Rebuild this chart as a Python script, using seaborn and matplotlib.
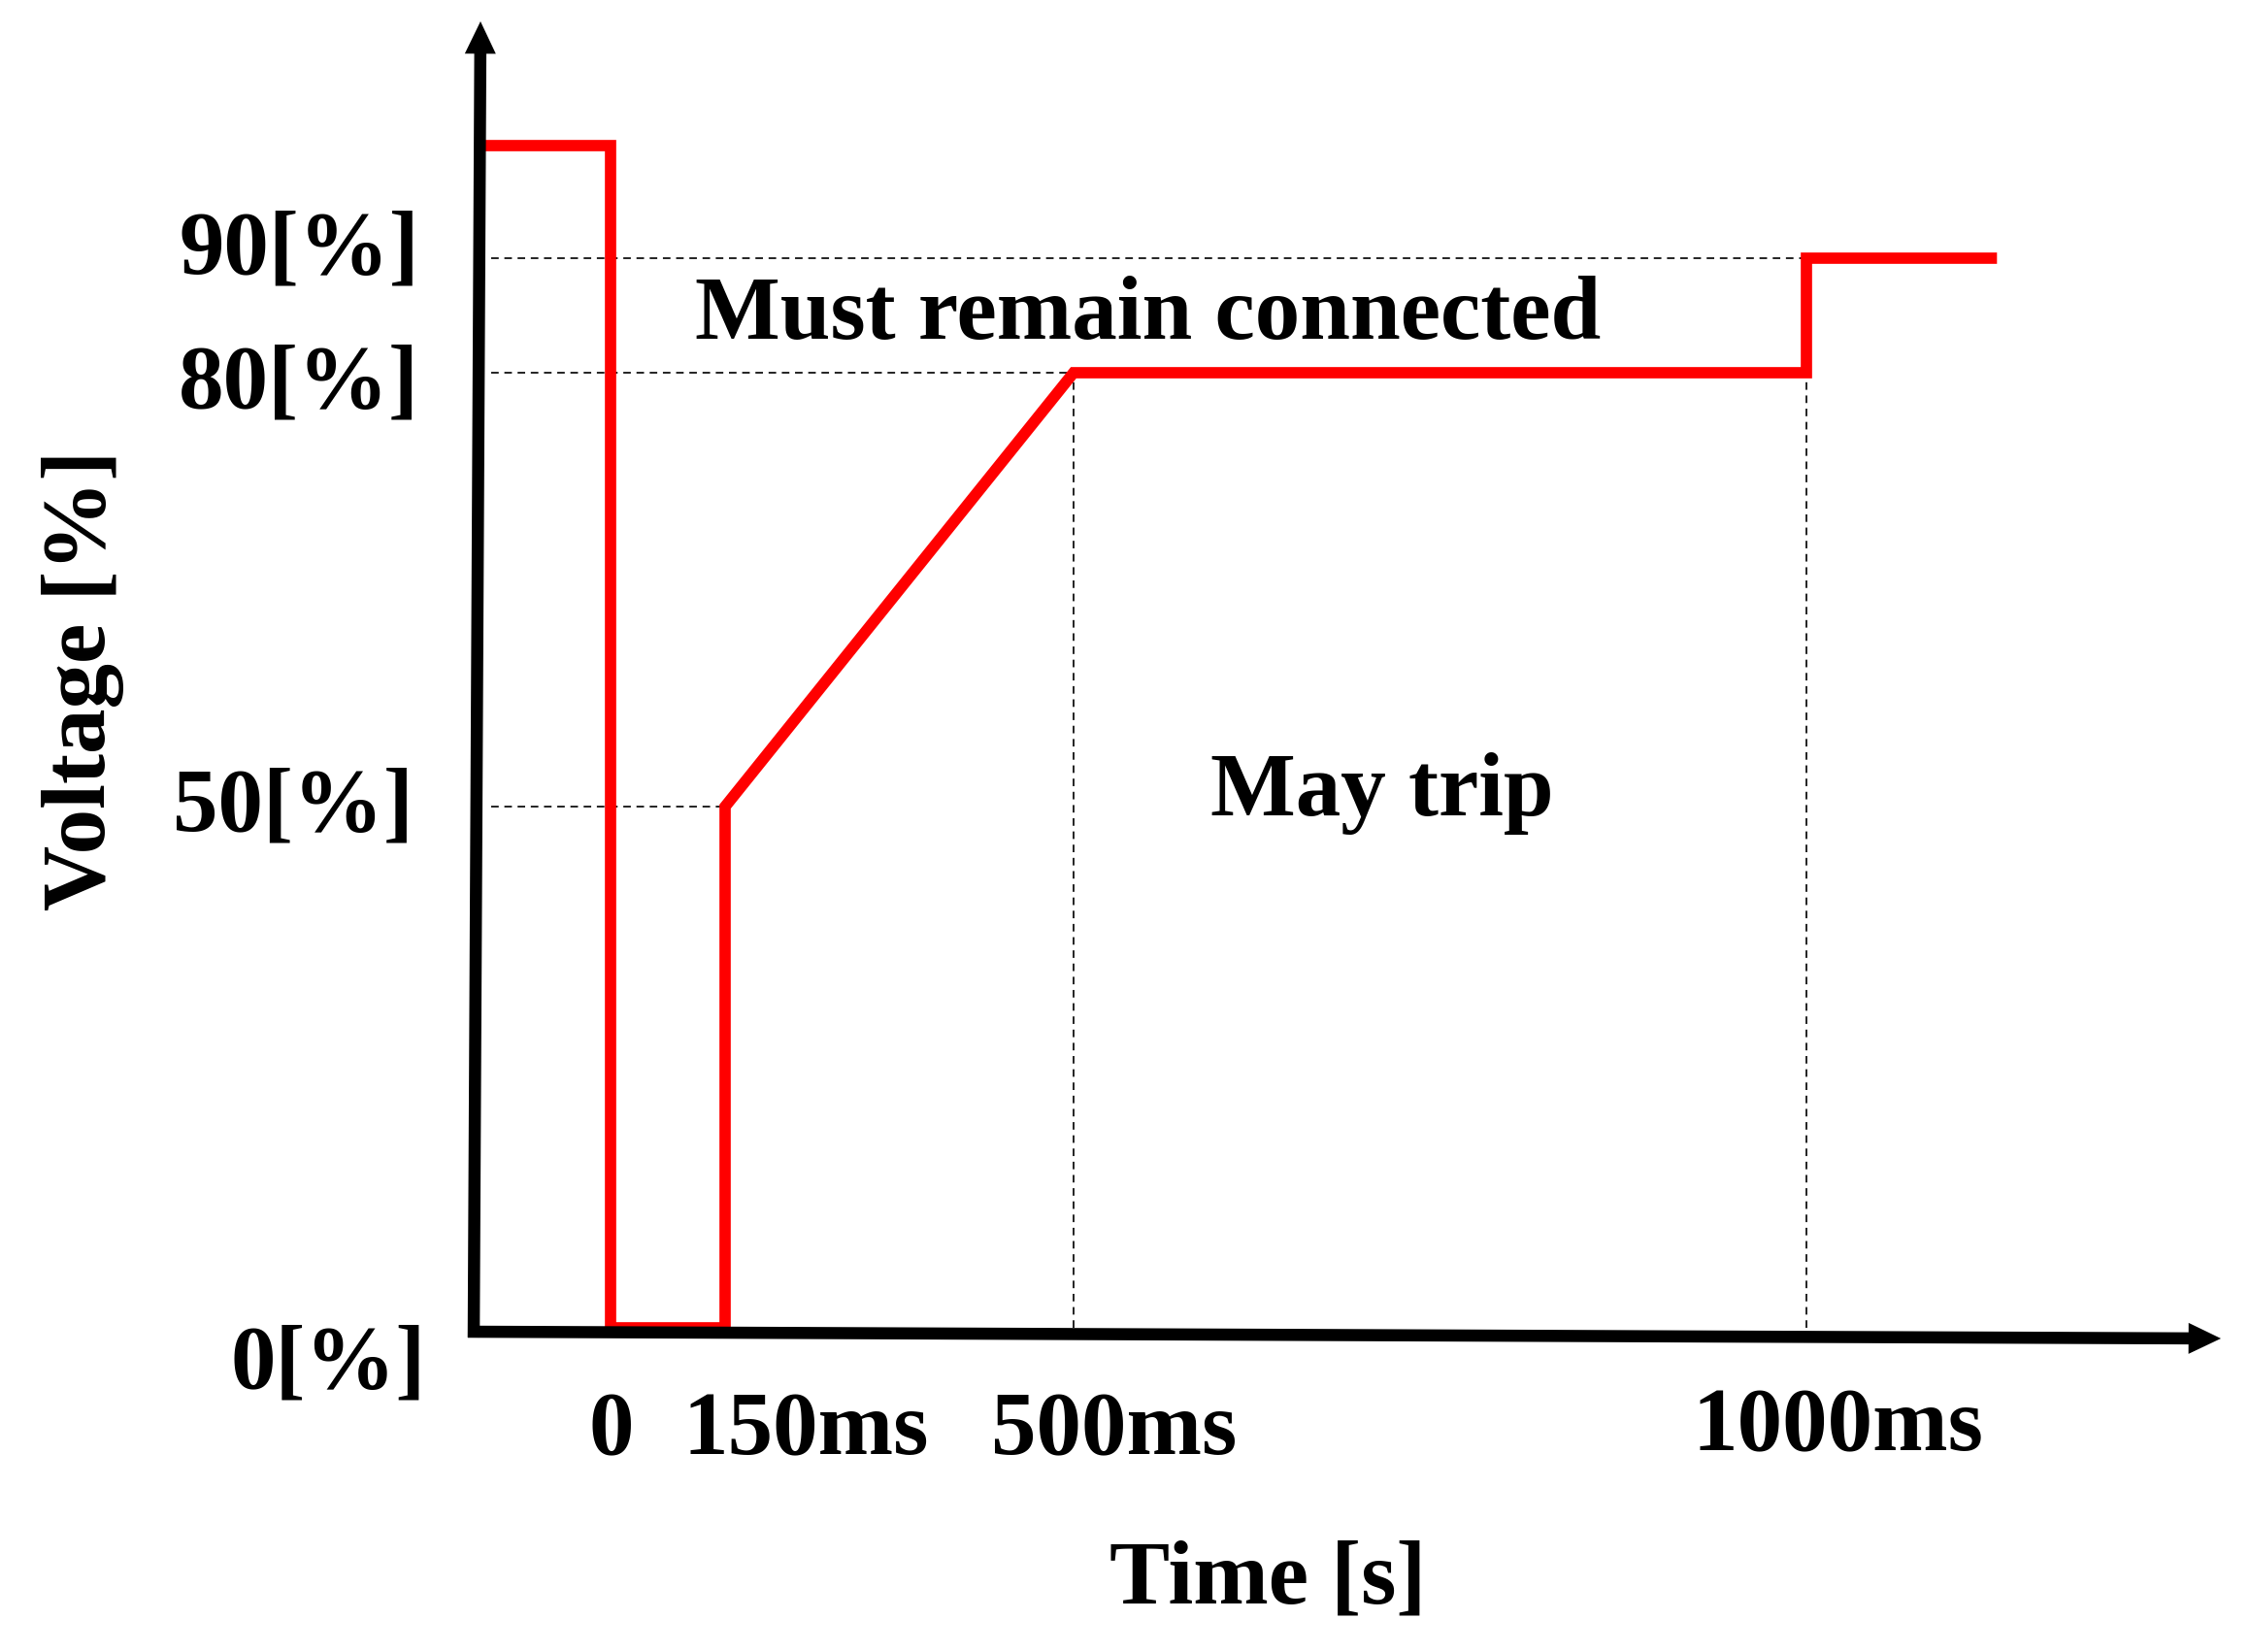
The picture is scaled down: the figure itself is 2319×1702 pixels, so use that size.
import numpy as np
import matplotlib
matplotlib.use('Agg')
import matplotlib.pyplot as plt
import seaborn as sns

# voltage ride-through profile (red curve)
time_ms = [-174, 0, 0, 150, 150, 500, 1000, 1000, 1130]
voltage_pct = [100, 100, 0, 0, 50, 80, 80, 90, 90]

# dashed guide lines
h_levels = [90, 80, 50]
h_ends_ms = [1000, 500, 150]
v_times_ms = [500, 1000]
v_tops_pct = [80, 90]

y_tick_labels = ['90[%]', '80[%]', '50[%]', '0[%]']
x_tick_labels = ['0', '150ms', '500ms', '1000ms']
region_labels = ['Must remain connected', 'May trip']
x_title = 'Time [s]'
y_title = 'Voltage [%]'

W, H = 2319, 1702

# schematic (piecewise linear) axis scales, anchors in figure pixels
T_ANCHOR = [-2000, 0, 150, 500, 1000, 3000]
X_PIX = [-944, 629, 747, 1106, 1861, 4881]
V_ANCHOR = [-300, 0, 50, 80, 90, 300]
Y_PIX = [-2888, 334, 871, 1318, 1436, 3872]


def fwd_x(t):
    return np.interp(t, T_ANCHOR, X_PIX)


def inv_x(p):
    return np.interp(p, X_PIX, T_ANCHOR)


def fwd_y(v):
    return np.interp(v, V_ANCHOR, Y_PIX)


def inv_y(p):
    return np.interp(p, Y_PIX, V_ANCHOR)


sns.set_theme(style='white')
plt.rcParams['font.family'] = ['Liberation Serif', 'DejaVu Serif']
plt.rcParams['font.weight'] = 'bold'

fig = plt.figure(figsize=(W / 100, H / 100), dpi=100)
ax = fig.add_axes([0, 0, 1, 1])
ax.set_xscale('function', functions=(fwd_x, inv_x))
ax.set_yscale('function', functions=(fwd_y, inv_y))

# guide lines
guide = dict(colors='#222222', linewidth=1.4, linestyles=(0, (4, 3)), zorder=1)
ax.hlines(h_levels, xmin=-156, xmax=h_ends_ms, **guide)
ax.vlines(v_times_ms, ymin=0, ymax=v_tops_pct, **guide)

sns.lineplot(x=time_ms, y=voltage_pct, sort=False, estimator=None, ax=ax,
             color='#ff0000', linewidth=8.4, solid_joinstyle='miter',
             solid_capstyle='butt', zorder=3)

ax.set_xlim(inv_x(0), inv_x(W))
ax.set_ylim(inv_y(0), inv_y(H))
ax.set_axis_off()

# axis arrows (figure pixels, origin bottom-left)
arrow = dict(arrowstyle='simple,head_length=24,head_width=23,tail_width=9',
             mutation_scale=1, color='black', lw=0, shrinkA=0, shrinkB=0)
ax.annotate('', xy=(495, H - 22), xytext=(488, H - 1378),
            xycoords='figure pixels', textcoords='figure pixels',
            arrowprops=arrow, zorder=4)
ax.annotate('', xy=(2288, H - 1379), xytext=(482, H - 1372),
            xycoords='figure pixels', textcoords='figure pixels',
            arrowprops=arrow, zorder=4)

FS = 67


def put(px, py, s, **kw):
    fig.text(px / W, 1 - py / H, s, fontsize=FS, fontweight='bold',
             color='black', **kw)


# y tick labels: right edge, baseline
y_lab_pos = [(432, 281), (432, 419), (426, 855), (439, 1430)]
for s, (px, py) in zip(y_tick_labels, y_lab_pos):
    put(px, py, s, ha='right', va='baseline')

# x tick labels: centre, baseline
x_lab_pos = [(630, 1498), (830, 1498), (1148, 1498), (1893, 1494)]
for s, (px, py) in zip(x_tick_labels, x_lab_pos):
    put(px, py, s, ha='center', va='baseline')

put(1183, 349, region_labels[0], ha='center', va='baseline')
put(1424, 840, region_labels[1], ha='center', va='baseline')
put(1306, 1652, x_title, ha='center', va='baseline')
put(86, 701, y_title, ha='center', va='center', rotation=90)

fig.savefig('out.png', dpi=100)
